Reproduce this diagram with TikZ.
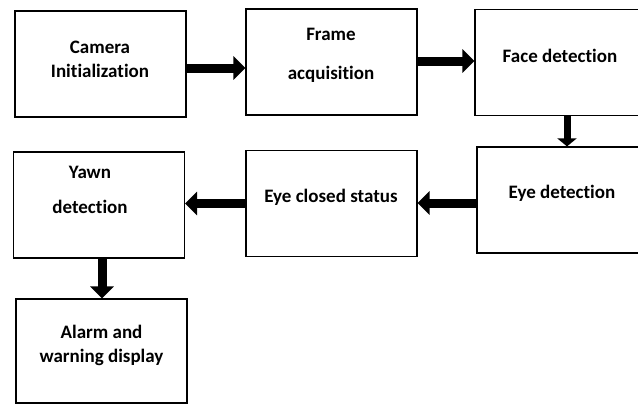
\documentclass[tikz,border=0pt]{standalone}
\usepackage{fontspec}
\setmainfont[Ligatures=NoCommon]{Carlito}
\usetikzlibrary{arrows.meta}

\begin{document}
\begin{tikzpicture}[x=1pt,y=-1pt,
  block/.style={draw,line width=1.2pt,minimum width=171pt,minimum height=106pt,inner sep=0pt},
  txt/.style={align=center,font=\bfseries\fontsize{19}{24}\selectfont,inner sep=0pt},
  bigarrow/.style={line width=9pt,-{Triangle[length=12pt,width=23pt]}}]
\useasboundingbox (0,0) rectangle (638,405);
\clip (0,0) rectangle (638,405);
% boxes
\node[block] (cam) at (100.5,64) {};
\node[block] (frame) at (331.5,62) {};
\node[block] (face) at (560.5,62.5) {};
\node[block] (eye) at (562.5,200) {};
\node[block] (closed) at (331.5,203.5) {};
\node[block] (yawn) at (99,205) {};
\node[block,minimum height=104pt] (alarm) at (101.5,351) {};
% texts
\node[txt] (camT) at (100,59) {Camera\\Initialization};
\node[txt] (frameT) at (331,55.5) {Frame\\[15pt]acquisition};
\node[txt] (faceT) at (560,56) {Face detection};
\node[txt] (eyeT) at (562,193) {Eye detection};
\node[txt] (closedT) at (331,197) {Eye closed status};
\node[txt] (yawnT) at (90,189.5) {Yawn\\[11pt]detection};
\node[txt] (alarmT) at (101.5,345.5) {Alarm and\\warning display};
% arrows
\draw[bigarrow] ([yshift=-4pt]cam.east) -- ([yshift=-4pt]cam.east -| frame.west);
\draw[bigarrow] ([yshift=1pt]frame.east) -- ([yshift=1pt]frame.east -| face.west);
\draw[bigarrow,line width=7pt,-{Triangle[length=8pt,width=19pt]}] ([xshift=6.5pt]face.south) -- ([xshift=6.5pt]face.south |- eye.north);
\draw[bigarrow] ([yshift=-3pt]eye.west) -- ([yshift=-3pt]eye.west -| closed.east);
\draw[bigarrow] (closed.west) -- (closed.west -| yawn.east);
\draw[bigarrow] ([xshift=3pt]yawn.south) -- ([xshift=3pt]yawn.south |- alarm.north);
\end{tikzpicture}
\end{document}
